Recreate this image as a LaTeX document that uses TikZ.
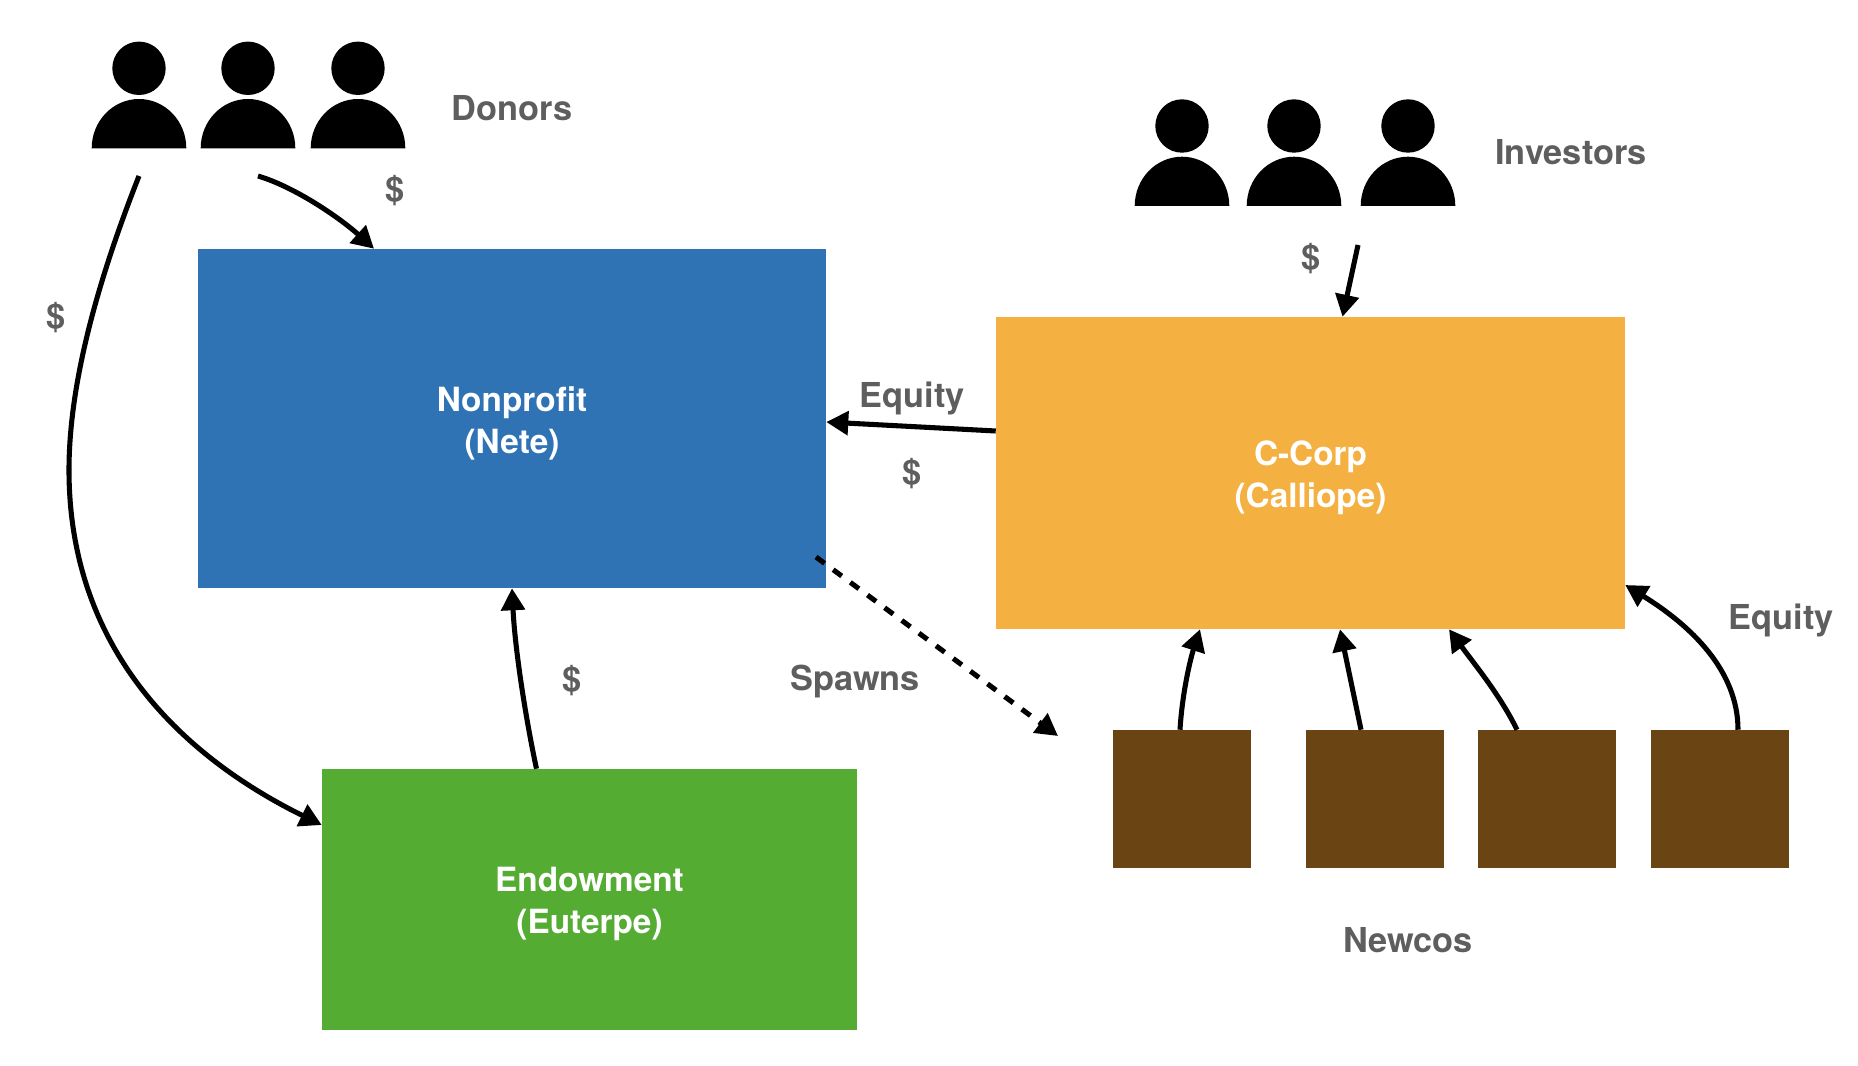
\documentclass[tikz,border=0pt]{standalone}
\usepackage{fontspec}
\setmainfont{TeX Gyre Heros}
\usetikzlibrary{arrows.meta,calc}

\definecolor{neteblue}{RGB}{47,115,181}
\definecolor{calliopeorange}{RGB}{244,176,64}
\definecolor{euterpegreen}{RGB}{85,172,51}
\definecolor{newcobrown}{RGB}{107,68,20}
\definecolor{labelgray}{RGB}{94,94,94}

\newcommand{\twolines}[2]{\rule{0pt}{25.5pt}#1\\#2}

\tikzset{
  block/.style={inner sep=0pt,align=center,text=white,
    font=\fontsize{25}{31.5}\selectfont\bfseries},
  newco/.style={fill=newcobrown,inner sep=0pt,minimum width=103.5pt,minimum height=103.5pt},
  tag/.style={inner sep=0pt,text=labelgray,font=\fontsize{25.75}{30}\selectfont\bfseries},
  flow/.style={-{Triangle[length=16.5pt,width=17.5pt]},line width=3.8pt},
}

\begin{document}
\begin{tikzpicture}[x=.75pt,y=-.75pt]
        \useasboundingbox (0,0) rectangle (1858,1066);

        % Boxes
        \node[block,fill=neteblue,minimum width=471pt,minimum height=254.25pt] (nete) at (512,418.5) {\twolines{Nonprofit}{(Nete)}};
        \node[block,fill=calliopeorange,minimum width=471.75pt,minimum height=234pt] (calliope) at (1310.5,473) {\twolines{C-Corp}{(Calliope)}};
        \node[block,fill=euterpegreen,minimum width=401.25pt,minimum height=195.75pt] (euterpe) at (589.5,899.5) {\twolines{Endowment}{(Euterpe)}};

        % Newcos
        \node[newco] (newco1) at (1182,799) {};
        \node[newco] (newco2) at (1375,799) {};
        \node[newco] (newco3) at (1547,799) {};
        \node[newco] (newco4) at (1720,799) {};

        % People
        \foreach \x in {139,248,358} {
          \fill (\x,68.3) circle (26.7);
          \fill (\x-47.3,148.3) .. controls (\x-47.3,121.1) and (\x-26.1,99) .. (\x,99)
            .. controls (\x+26.1,99) and (\x+47.3,121.1) .. (\x+47.3,148.3) -- cycle;
        }
        \foreach \x in {1182,1294,1408} {
          \fill (\x,126) circle (26.7);
          \fill (\x-47.3,206) .. controls (\x-47.3,178.8) and (\x-26.1,156.7) .. (\x,156.7)
            .. controls (\x+26.1,156.7) and (\x+47.3,178.8) .. (\x+47.3,206) -- cycle;
        }

        % Labels
        \node[tag,anchor=base] (donors) at (512,120.5) {Donors};
        \node[tag,anchor=base] (investors) at (1571,164.5) {Investors};
        \node[tag,anchor=base] (newcos) at (1408,952) {Newcos};
        \node[tag,anchor=base] (spawns) at (855,690) {Spawns};
        \node[tag,anchor=base] (equityleft) at (912,407.5) {Equity};
        \node[tag,anchor=base] (equityright) at (1781,629.5) {Equity};
        \node[tag] (dollar1) at (395,191) {\$};
        \node[tag] (dollar2) at (55.7,318) {\$};
        \node[tag] (dollar3) at (1311,259) {\$};
        \node[tag] (dollar4) at (912,474) {\$};
        \node[tag] (dollar5) at (572,681) {\$};

        % Free ends of the arrows
        \coordinate (donorsleft) at (139,176);
        \coordinate (donorsright) at (258,176);
        \coordinate (investorsout) at (1358,245);
        \coordinate (spawnstart) at (816,557);
        \coordinate (spawnend) at (1058,736);

        % Money
        \draw[flow] (donorsleft) .. controls (100,275) and (69,380) .. (69,470)
          .. controls (69,670) and (210,770) .. ($(euterpe.west)+(0,-74.5)$);
        \draw[flow] (donorsright) .. controls (295,187) and (340,218) .. ($(nete.north)+(-138,0)$);
        \draw[flow] (investorsout) -- ($(calliope.north)+(32,0)$);
        \draw[flow] ($(euterpe.north)+(-53,0)$) .. controls (526,720) and (515,650) .. ($(nete.south)+(0,0)$);
        \draw[flow] ($(calliope.west)+(0,-42)$) -- ($(nete.east)+(0,3.5)$);

        % Spawned companies
        \draw[flow,dash pattern=on 8pt off 8pt] (spawnstart) -- (spawnend);

        % Equity going up
        \draw[flow] ($(newco1.north)+(-2,0)$) .. controls (1182,695) and (1190,660) .. ($(calliope.south)+(-110.5,0)$);
        \draw[flow] ($(newco2.north)+(-14,0)$) -- ($(calliope.south)+(29.5,0)$);
        \draw[flow] ($(newco3.north)+(-30,0)$) .. controls (1500,695) and (1475,665) .. ($(calliope.south)+(138.5,0)$);
        \draw[flow] ($(newco4.north)+(18,0)$) .. controls (1738,670) and (1690,625) .. ($(calliope.east)+(0,112)$);

\end{tikzpicture}
\end{document}
